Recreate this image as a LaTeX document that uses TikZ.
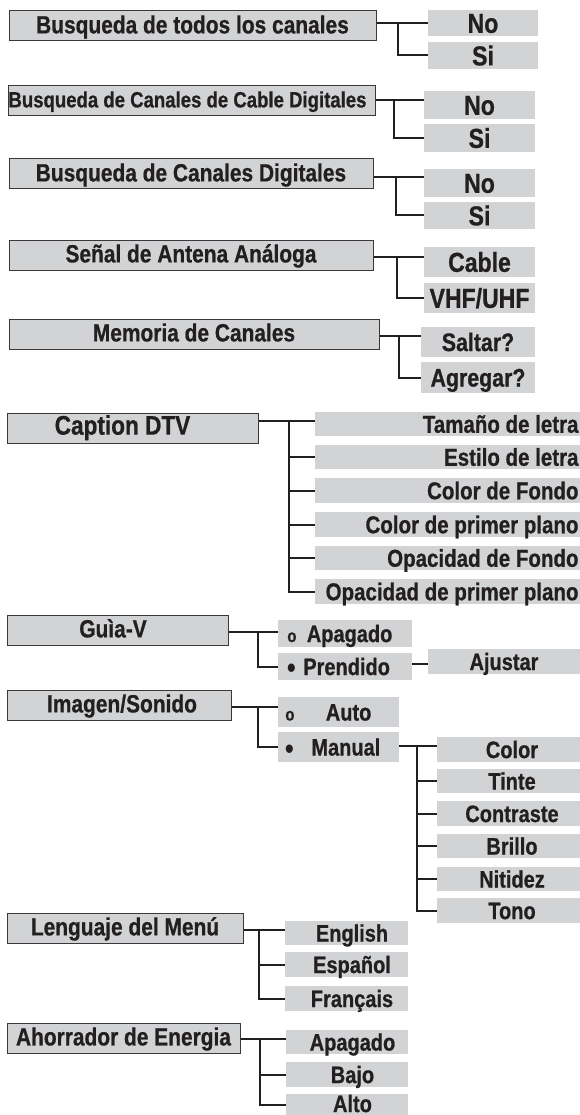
\documentclass[tikz,border=0pt]{standalone}
\usepackage{fontspec}
\setmainfont{Liberation Sans}[FakeStretch=0.84, BoldFeatures={FakeBold=0.7}]
\definecolor{boxfill}{HTML}{D1D3D4}
\definecolor{txt}{HTML}{231F20}
\definecolor{bordercol}{HTML}{3A3839}
\newcommand{\boxat}[7]{\node[#1, minimum width={#5pt-#3pt}, minimum height={#6pt-#4pt}] (#2) at ({(#3+#5)/2},{(#4+#6)/2}) {#7};}
\newcommand{\obul}{{\fontsize{18}{18}\selectfont o}}
\newcommand{\fbul}{\raisebox{-3.5pt}{\fontsize{31}{31}\selectfont\mdseries •}}
\tikzset{
  fs/.style n args={2}{font=\fontsize{#1}{#1}\selectfont\bfseries, text height=#2, text depth=0pt},
  mainbox/.style={draw=bordercol, line width=1pt, fill=boxfill, inner sep=0pt, text=txt, fs={24.9}{17.8pt}, text depth=3pt},
  subbox/.style={fill=boxfill, inner sep=0pt, text=txt, fs={23.8}{17.1pt}},
  conn/.style={draw=txt, line width=2pt},
}
\begin{document}
\begin{tikzpicture}[x=1pt,y=-1pt]
\useasboundingbox (0,0) rectangle (580,1115);
% ---------- section 1
\boxat{mainbox}{m1}{9}{11}{376}{41}{Busqueda de todos los canales}
\boxat{subbox,fs={27.4}{19.7pt}}{c1a}{428}{10}{538}{36}{No}
\boxat{subbox,fs={27.4}{19.7pt}}{c1b}{428}{42}{538}{69}{Si}
\coordinate (j1) at (398,23);
\draw[conn] (m1.east |- j1) -- (c1a.west |- j1);
\draw[conn] (j1) |- (c1b.west);
% ---------- section 2
\boxat{mainbox,fs={22.1}{15.8pt},text depth=3pt}{m2}{9}{86}{375}{116}{Busqueda de Canales de Cable Digitales\hspace*{9pt}}
\boxat{subbox,fs={27.4}{19.7pt}}{c2a}{424}{91}{535}{119}{No}
\boxat{subbox,fs={27.4}{19.7pt}}{c2b}{424}{124}{535}{152}{Si}
\coordinate (j2) at (394,100);
\draw[conn] (m2.east |- j2) -- (c2a.west |- j2);
\draw[conn] (j2) |- (c2b.west);
% ---------- section 3
\boxat{mainbox}{m3}{9}{159}{373}{189}{Busqueda de Canales Digitales}
\boxat{subbox,fs={27.4}{19.7pt}}{c3a}{424}{169}{535}{197}{No}
\boxat{subbox,fs={27.4}{19.7pt}}{c3b}{424}{202}{535}{229}{Si}
\coordinate (j3) at (396,177);
\draw[conn] (m3.east |- j3) -- (c3a.west |- j3);
\draw[conn] (j3) |- (c3b.west);
% ---------- section 4
\boxat{mainbox}{m4}{9}{240}{373}{270}{Señal de Antena Análoga}
\boxat{subbox,fs={27.4}{19.7pt}}{c4a}{424}{247}{535}{277}{Cable}
\boxat{subbox,fs={27.4}{19.7pt}}{c4b}{424}{283}{535}{313}{VHF/UHF}
\coordinate (j4) at (397,257);
\draw[conn] (m4.east |- j4) -- (c4a.west |- j4);
\draw[conn] (j4) |- (c4b.west);
% ---------- section 5
\boxat{mainbox}{m5}{9}{319}{379}{349}{Memoria de Canales}
\boxat{subbox,fs={25.4}{18.1pt}}{c5a}{421}{327}{535}{357}{Saltar?}
\boxat{subbox,fs={25.4}{18.1pt}}{c5b}{421}{362}{535}{393}{Agregar?}
\coordinate (j5) at (399,336);
\draw[conn] (m5.east |- j5) -- (c5a.west |- j5);
\draw[conn] (j5) |- (c5b.west);
% ---------- section 6
\boxat{mainbox,fs={26.9}{19.3pt},text depth=6pt}{m6}{7}{413}{258}{443}{Caption DTV\hspace*{20pt}}
\boxat{subbox,fs={24.4}{17.5pt}}{t1}{315}{412}{580}{436}{\makebox[265pt][r]{Tamaño de letra\hspace*{1.5pt}}}
\boxat{subbox,fs={24.4}{17.5pt}}{t2}{315}{445}{580}{469}{\makebox[265pt][r]{Estilo de letra\hspace*{1.5pt}}}
\boxat{subbox,fs={24.4}{17.5pt}}{t3}{315}{478}{580}{503}{\makebox[265pt][r]{Color de Fondo\hspace*{1.5pt}}}
\boxat{subbox,fs={24.4}{17.5pt}}{t4}{315}{512}{580}{537}{\makebox[265pt][r]{Color de primer plano\hspace*{1.5pt}}}
\boxat{subbox,fs={24.4}{17.5pt}}{t5}{315}{546}{580}{570}{\makebox[265pt][r]{Opacidad de Fondo\hspace*{1.5pt}}}
\boxat{subbox,fs={24.4}{17.5pt}}{t6}{315}{579}{580}{604}{\makebox[265pt][r]{Opacidad de primer plano\hspace*{1.5pt}}}
\coordinate (j6) at (289,421);
\draw[conn] (m6.east |- j6) -- (t1.west |- j6);
\draw[conn] (j6) |- (t6.west);
\foreach \n in {t2,t3,t4,t5} \draw[conn] (j6 |- \n.west) -- (\n.west);
% ---------- section 7
\boxat{mainbox}{m7}{7}{615}{228}{645}{Guìa-V\hspace*{9pt}}
\boxat{subbox}{g1}{278}{620}{412}{647}{\makebox[134pt][l]{\hspace*{9.3pt}\obul\hspace*{10.3pt}Apagado}}
\boxat{subbox}{g2}{278}{653}{412}{680}{\makebox[134pt][l]{\hspace*{8.9pt}\fbul\hspace*{7.3pt}Prendido}}
\boxat{subbox}{aj}{428}{649}{580}{674}{Ajustar}
\coordinate (j7) at (258,632);
\draw[conn] (m7.east |- j7) -- (g1.west |- j7);
\draw[conn] (j7) |- (g2.west);
\coordinate (ja) at (420,664);
\draw[conn] (g2.east |- ja) -- (aj.west |- ja);
% ---------- section 8
\boxat{mainbox}{m8}{7}{690}{231}{720}{\hspace*{6pt}Imagen/Sonido}
\boxat{subbox}{i1}{278}{697}{399}{727}{\makebox[121pt][l]{\hspace*{7.3pt}\obul\hspace*{31.3pt}Auto}}
\boxat{subbox}{i2}{278}{732}{399}{762}{\makebox[121pt][l]{\hspace*{6.9pt}\fbul\hspace*{17.4pt}Manual}}
\coordinate (j8) at (258,707);
\draw[conn] (m8.east |- j8) -- (i1.west |- j8);
\draw[conn] (j8) |- (i2.west);
\boxat{subbox}{k1}{437}{737}{587}{762}{Color}
\boxat{subbox}{k2}{437}{769}{587}{793}{Tinte}
\boxat{subbox}{k3}{437}{801}{587}{826}{Contraste}
\boxat{subbox}{k4}{437}{834}{587}{858}{Brillo}
\boxat{subbox}{k5}{437}{867}{587}{891}{Nitidez}
\boxat{subbox}{k6}{437}{898}{587}{923}{Tono}
\coordinate (jm) at (417,746);
\draw[conn] (i2.east |- jm) -- (k1.west |- jm);
\draw[conn] (jm) |- (k6.west);
\foreach \n in {k2,k3,k4,k5} \draw[conn] (jm |- \n.west) -- (\n.west);
% ---------- section 9
\boxat{mainbox}{m9}{7}{913}{243}{943}{Lenguaje del Menú}
\boxat{subbox}{l1}{285}{921}{408}{945}{\hspace*{11pt}English}
\boxat{subbox}{l2}{285}{952}{408}{977}{\hspace*{11pt}Español}
\boxat{subbox}{l3}{285}{986}{408}{1011}{\hspace*{11pt}Français}
\coordinate (j9) at (259,930);
\draw[conn] (m9.east |- j9) -- (l1.west |- j9);
\draw[conn] (j9) |- (l3.west);
\draw[conn] (j9 |- l2.west) -- (l2.west);
% ---------- section 10
\boxat{mainbox}{m10}{7}{1023}{240}{1053}{Ahorrador de Energia}
\boxat{subbox}{e1}{286}{1030}{408}{1054}{\hspace*{11pt}Apagado}
\boxat{subbox}{e2}{286}{1062}{408}{1087}{\hspace*{11pt}Bajo}
\boxat{subbox,text depth=3pt}{e3}{286}{1094}{408}{1116}{\hspace*{11pt}Alto}
\coordinate (j10) at (260,1039);
\draw[conn] (m10.east |- j10) -- (e1.west |- j10);
\draw[conn] (j10) |- (e3.west);
\draw[conn] (j10 |- e2.west) -- (e2.west);
\end{tikzpicture}
\end{document}
